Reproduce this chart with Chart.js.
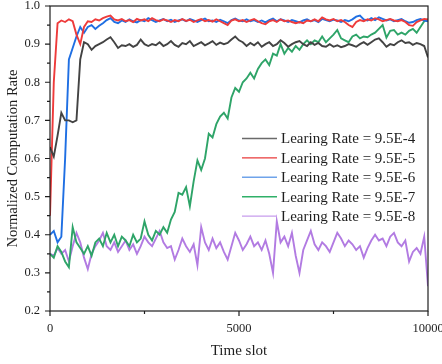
<!DOCTYPE html>
<html>
<head>
<meta charset="utf-8">
<script src="https://cdn.jsdelivr.net/npm/chart.js@4.4.0/dist/chart.umd.min.js"></script>
<style>
html, body { margin: 0; padding: 0; background: #fff; }
#wrap { width: 442px; height: 364px; position: relative; }
</style>
</head>
<body>
<div id="wrap"><canvas id="chart"></canvas></div>
<script>
// time slots 0..10000, one sample every 100 slots
var timeSlots = [];
for (var i = 0; i <= 100; i++) timeSlots.push(i * 100);

var rate4 = [
  0.63, 0.605, 0.66, 0.72, 0.70, 0.70, 0.695, 0.70, 0.86, 0.905,
  0.90, 0.885, 0.895, 0.90, 0.905, 0.912, 0.918, 0.905, 0.89, 0.897,
  0.895, 0.90, 0.893, 0.898, 0.912, 0.90, 0.895, 0.90, 0.897, 0.905,
  0.895, 0.90, 0.908, 0.898, 0.893, 0.903, 0.90, 0.908, 0.895, 0.90,
  0.905, 0.897, 0.902, 0.908, 0.898, 0.904, 0.90, 0.903, 0.912, 0.92,
  0.91, 0.905, 0.895, 0.903, 0.897, 0.905, 0.893, 0.90, 0.905, 0.895,
  0.90, 0.91, 0.903, 0.893, 0.90, 0.905, 0.908, 0.90, 0.895, 0.905,
  0.898, 0.903, 0.895, 0.893, 0.90, 0.893, 0.897, 0.892, 0.895, 0.90,
  0.897, 0.893, 0.90, 0.905, 0.898, 0.905, 0.912, 0.915, 0.905, 0.893,
  0.90, 0.897, 0.905, 0.91, 0.903, 0.905, 0.898, 0.903, 0.90, 0.895,
  0.865
];
var rate5 = [
  0.45, 0.80, 0.955, 0.962, 0.958, 0.965, 0.96, 0.925, 0.90, 0.945,
  0.96, 0.958, 0.965, 0.962, 0.968, 0.972, 0.975, 0.965, 0.962, 0.966,
  0.96, 0.963, 0.958, 0.966, 0.962, 0.965, 0.96, 0.968, 0.963, 0.96,
  0.965, 0.962, 0.958, 0.963, 0.96, 0.966, 0.961, 0.964, 0.958, 0.962,
  0.966, 0.96, 0.963, 0.959, 0.965, 0.96, 0.955, 0.95, 0.962, 0.965,
  0.96, 0.963, 0.958, 0.962, 0.966, 0.96, 0.955, 0.952, 0.96, 0.963,
  0.958, 0.965, 0.96, 0.962, 0.958, 0.955, 0.958, 0.955, 0.962, 0.96,
  0.965, 0.96, 0.97, 0.965, 0.962, 0.966, 0.96, 0.963, 0.958, 0.95,
  0.945, 0.958, 0.963, 0.96, 0.965, 0.962, 0.968, 0.965, 0.96, 0.963,
  0.966, 0.962, 0.96, 0.963, 0.958, 0.95, 0.948, 0.958, 0.962, 0.966,
  0.965
];
var rate6 = [
  0.40, 0.41, 0.38, 0.395, 0.60, 0.86, 0.89, 0.92, 0.945, 0.93,
  0.945, 0.95, 0.94, 0.948, 0.955, 0.963, 0.968, 0.958, 0.955, 0.962,
  0.958, 0.965, 0.96, 0.957, 0.963, 0.96, 0.968, 0.963, 0.958, 0.962,
  0.966, 0.96, 0.964, 0.958, 0.962, 0.965, 0.96, 0.966, 0.962, 0.958,
  0.963, 0.967, 0.96, 0.962, 0.958, 0.964, 0.96, 0.955, 0.963, 0.967,
  0.962, 0.96, 0.965, 0.96, 0.963, 0.958, 0.962, 0.957, 0.963, 0.967,
  0.96, 0.965, 0.962, 0.958, 0.963, 0.96, 0.957, 0.962, 0.965, 0.96,
  0.963, 0.958, 0.966, 0.963, 0.96, 0.964, 0.962, 0.958, 0.963, 0.96,
  0.965, 0.972, 0.975, 0.965, 0.962, 0.968, 0.963, 0.97, 0.966, 0.962,
  0.965, 0.96, 0.963, 0.966, 0.96, 0.956, 0.958, 0.963, 0.966, 0.962,
  0.96
];
var rate7 = [
  0.35, 0.34, 0.37, 0.355, 0.33, 0.315, 0.42, 0.38, 0.365, 0.35,
  0.37, 0.345, 0.38, 0.39, 0.37, 0.405, 0.38, 0.40, 0.37, 0.395,
  0.385, 0.37, 0.40, 0.38, 0.39, 0.435, 0.40, 0.385, 0.41, 0.40,
  0.42, 0.405, 0.44, 0.46, 0.51, 0.505, 0.525, 0.475, 0.54, 0.595,
  0.57, 0.60, 0.665, 0.655, 0.69, 0.71, 0.72, 0.705, 0.76, 0.785,
  0.775, 0.80, 0.81, 0.825, 0.81, 0.835, 0.85, 0.86, 0.845, 0.875,
  0.87, 0.90, 0.875, 0.89, 0.88, 0.895, 0.885, 0.90, 0.91, 0.90,
  0.91, 0.905, 0.92, 0.905, 0.915, 0.925, 0.937, 0.915, 0.91, 0.905,
  0.92, 0.925, 0.915, 0.92, 0.918, 0.925, 0.93, 0.94, 0.95, 0.917,
  0.935, 0.937, 0.925, 0.93, 0.925, 0.935, 0.94, 0.93, 0.945, 0.96,
  0.965
];
var rate8 = [
  0.35, 0.345, 0.365, 0.35, 0.36, 0.33, 0.37, 0.405, 0.38, 0.34,
  0.31, 0.35, 0.37, 0.385, 0.405, 0.37, 0.36, 0.38, 0.355, 0.37,
  0.385, 0.36, 0.375, 0.35, 0.37, 0.395, 0.38, 0.37, 0.39, 0.41,
  0.38, 0.365, 0.37, 0.335, 0.36, 0.39, 0.37, 0.355, 0.375, 0.32,
  0.42, 0.38, 0.36, 0.39, 0.365, 0.38, 0.355, 0.335, 0.37, 0.405,
  0.385, 0.36, 0.375, 0.395, 0.37, 0.38, 0.36, 0.385, 0.35, 0.30,
  0.435, 0.38, 0.395, 0.37, 0.405, 0.345, 0.30, 0.36, 0.385, 0.41,
  0.375, 0.36, 0.38, 0.37, 0.355, 0.38, 0.405, 0.39, 0.37, 0.385,
  0.375, 0.36, 0.37, 0.34, 0.365, 0.385, 0.40, 0.385, 0.39, 0.37,
  0.395, 0.405, 0.38, 0.37, 0.385, 0.33, 0.355, 0.365, 0.35, 0.395,
  0.265
];

var seriesNames = [
  "Learing Rate = 9.5E-4",
  "Learing Rate = 9.5E-5",
  "Learing Rate = 9.5E-6",
  "Learing Rate = 9.5E-7",
  "Learing Rate = 9.5E-8"
];
var seriesValues = [rate4, rate5, rate6, rate7, rate8];
var seriesColors = ["#434343", "#ee3b3b", "#1f6fe3", "#2ea468", "#b27be2"];
var legendColors = ["#6a6a6a", "#e83a3a", "#6fa3ea", "#2fb068", "#c79ded"];

var yTicks = [0.2, 0.3, 0.4, 0.5, 0.6, 0.7, 0.8, 0.9, 1.0];
var yMinor = [0.25, 0.35, 0.45, 0.55, 0.65, 0.75, 0.85, 0.95];
var xTicks = [0, 5000, 10000];
var xMinor = [2500, 7500];

var serif = '"Liberation Serif", "Times New Roman", serif';
var ink = "#1e1e1e";

var datasets = seriesValues.map(function(vals, k) {
  return {
    label: seriesNames[k],
    data: vals.map(function(v, j) { return { x: timeSlots[j], y: v }; }),
    borderColor: seriesColors[k],
    borderWidth: 1.9,
    pointRadius: 0,
    tension: 0,
    fill: false
  };
});

var frameTicks = {
  id: "frameTicks",
  afterDraw: function(chart) {
    var ctx = chart.ctx, a = chart.chartArea;
    var xs = chart.scales.x, ys = chart.scales.y;
    ctx.save();
    ctx.strokeStyle = ink;
    ctx.lineWidth = 1.2;
    ctx.strokeRect(a.left, a.top, a.right - a.left, a.bottom - a.top);
    ctx.beginPath();
    yTicks.forEach(function(v) {
      var p = ys.getPixelForValue(v);
      ctx.moveTo(a.left - 5, p); ctx.lineTo(a.left, p);
    });
    yMinor.forEach(function(v) {
      var p = ys.getPixelForValue(v);
      ctx.moveTo(a.left - 3, p); ctx.lineTo(a.left, p);
    });
    xTicks.forEach(function(v) {
      var p = xs.getPixelForValue(v);
      ctx.moveTo(p, a.bottom); ctx.lineTo(p, a.bottom + 5);
    });
    xMinor.forEach(function(v) {
      var p = xs.getPixelForValue(v);
      ctx.moveTo(p, a.bottom); ctx.lineTo(p, a.bottom + 3);
    });
    ctx.stroke();
    ctx.restore();
  }
};

var legendBox = {
  id: "legendBox",
  afterDraw: function(chart) {
    var ctx = chart.ctx;
    ctx.save();
    ctx.font = "15px " + serif;
    ctx.textBaseline = "middle";
    ctx.fillStyle = ink;
    seriesNames.forEach(function(name, k) {
      var y = 138.5 + k * 19.4;
      ctx.strokeStyle = legendColors[k];
      ctx.lineWidth = 1.4;
      ctx.beginPath();
      ctx.moveTo(242, y); ctx.lineTo(277, y);
      ctx.stroke();
      ctx.fillText(name, 281, y + 1);
    });
    ctx.restore();
  }
};

new Chart(document.getElementById("chart"), {
  type: "line",
  data: { datasets: datasets },
  options: {
    responsive: true,
    maintainAspectRatio: false,
    animation: false,
    layout: { padding: { top: 6, right: 14, left: 0, bottom: 0 } },
    plugins: { legend: { display: false }, tooltip: { enabled: false } },
    scales: {
      x: {
        type: "linear",
        min: 0,
        max: 10000,
        afterBuildTicks: function(s) { s.ticks = xTicks.map(function(v) { return { value: v }; }); },
        afterFit: function(s) { s.height = 53; s.paddingLeft = 0; s.paddingRight = 0; },
        grid: { display: false, drawTicks: false },
        border: { display: false },
        ticks: {
          color: ink, font: { family: serif, size: 12.5 }, padding: 10, maxRotation: 0, autoSkip: false,
          callback: function(v) { return String(v); }
        },
        title: { display: true, text: "Time slot", color: ink, font: { family: serif, size: 15 }, padding: { top: 0, bottom: 4 } }
      },
      y: {
        min: 0.2,
        max: 1.0,
        afterBuildTicks: function(s) { s.ticks = yTicks.map(function(v) { return { value: v }; }); },
        afterFit: function(s) { s.width = 50; s.paddingTop = 0; s.paddingBottom = 0; },
        grid: { display: false, drawTicks: false },
        border: { display: false },
        ticks: {
          color: ink, font: { family: serif, size: 12.5 }, padding: 10, autoSkip: false,
          callback: function(v) { return Number(v).toFixed(1); }
        },
        title: { display: true, text: "Normalized Computation Rate", color: ink, font: { family: serif, size: 14.5 }, padding: { top: 4, bottom: 0 } }
      }
    }
  },
  plugins: [frameTicks, legendBox]
});
</script>
</body>
</html>
